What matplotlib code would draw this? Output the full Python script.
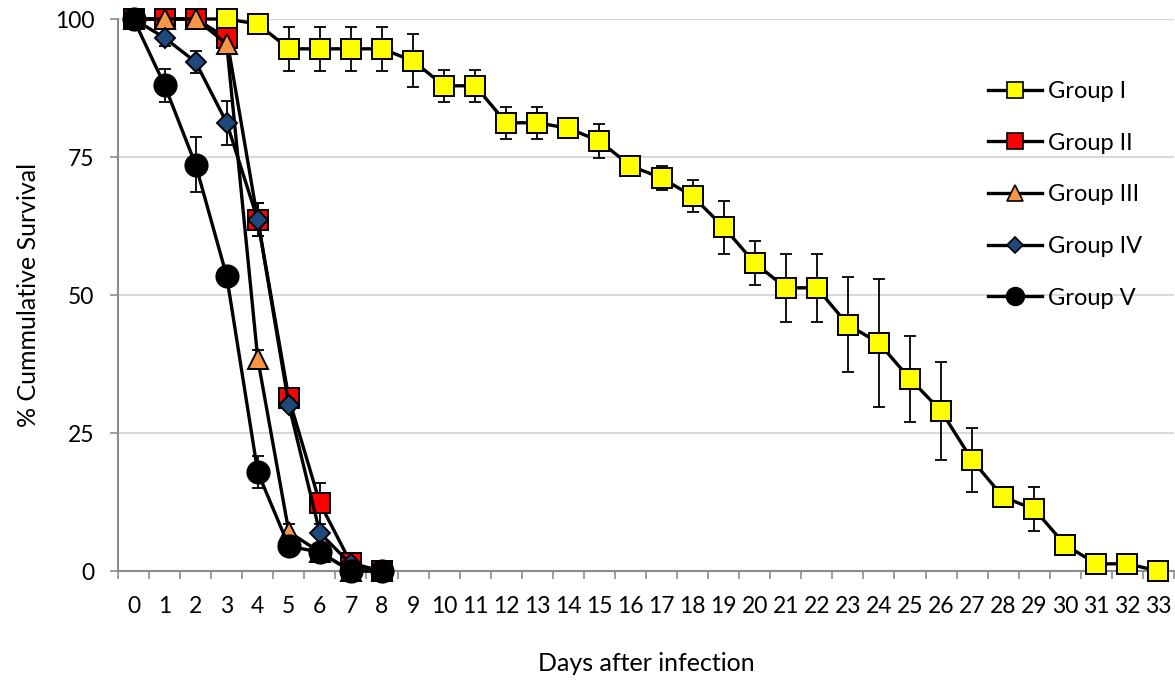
import numpy as np
import matplotlib.pyplot as plt
from matplotlib.lines import Line2D

plt.rcParams['font.family'] = ['Lato', 'DejaVu Sans']

# days after infection
days_I = np.arange(0, 34)
days_short = np.arange(0, 9)

# Group I
surv_I = [100, 100, 100, 100, 99.1, 94.6, 94.6, 94.6, 94.6, 92.4,
          87.9, 87.9, 81.2, 81.2, 80.2, 77.9, 73.4, 71.2, 67.9, 62.3,
          55.8, 51.3, 51.3, 44.6, 41.3, 34.8, 29.0, 20.1, 13.4, 11.2,
          4.7, 1.3, 1.3, 0]
err_I = [0, 0, 0, 0, 0, 4.0, 4.0, 4.0, 4.0, 4.8,
         2.9, 2.9, 2.9, 2.9, 0.8, 3.0, 0, 2.2, 2.9, 4.8,
         4.0, 6.2, 6.2, 8.6, 11.6, 7.8, 8.9, 5.8, 0, 4.0,
         0, 0, 0, 0]
# Group II
surv_II = [100, 100, 100, 96.6, 63.6, 31.3, 12.3, 1.4, 0]
err_II = [0, 0, 0, 0, 3.0, 1.0, 3.7, 0, 0]
# Group III
surv_III = [100, 100, 100, 95.5, 38.4, 7.1, 3.4, 0, 0]
err_III = [0, 0, 0, 0, 1.6, 1.5, 0, 0, 0]
# Group IV
surv_IV = [100, 96.6, 92.2, 81.2, 63.6, 30.1, 6.9, 1.2, 0]
err_IV = [0, 1.5, 2.0, 4.0, 3.0, 1.0, 0, 0, 0]
# Group V
surv_V = [100, 88.0, 73.6, 53.4, 17.9, 4.5, 3.4, 0, 0]
err_V = [0, 3.0, 5.0, 1.0, 2.9, 0, 0, 0, 0]

labels = ['Group I', 'Group II', 'Group III', 'Group IV', 'Group V']
colors = ['#ffff00', '#ff0000', '#f79646', '#1f497d', '#000000']
markers = ['s', 's', '^', 'D', 'o']
msizes = [15, 15, 15, 10.5, 16]

series = [(days_I, surv_I, err_I), (days_short, surv_II, err_II),
          (days_short, surv_III, err_III), (days_short, surv_IV, err_IV),
          (days_short, surv_V, err_V)]

fig = plt.figure(figsize=(11.75, 6.81), dpi=100)
ax = fig.add_axes([118/1175, 110/681, 1056/1175, 552/681])

for i, (x, y, e) in enumerate(series):
    x = np.asarray(x)
    y = np.asarray(y, dtype=float)
    e = np.asarray(e, dtype=float)
    z = 3 + 2*i
    ax.plot(x, y, color='black', lw=2.4, zorder=z, clip_on=False)
    m = e > 0
    if m.any():
        ax.errorbar(x[m], y[m], yerr=e[m], fmt='none', ecolor='black',
                    elinewidth=1.3, capsize=4.5, capthick=1.3, zorder=z, clip_on=False)
    ax.plot(x, y, ls='none', marker=markers[i], ms=msizes[i], mfc=colors[i],
            mec='black', mew=1.4, zorder=z + 1, clip_on=False)

ax.set_xlim(-0.5, 33.5)
ax.set_ylim(0, 100)
ax.set_yticks([0, 25, 50, 75, 100])
ax.set_xticks(days_I)
ax.set_xticks(np.arange(-0.5, 34, 1), minor=True)
ax.tick_params(axis='x', which='major', length=0, pad=18, labelsize=16.5)
ax.tick_params(axis='x', which='minor', length=6, width=1.2, color='#8c8c8c')
ax.tick_params(axis='y', length=6, width=1.2, color='#8c8c8c', pad=11, labelsize=16.5)

ax.grid(axis='y', color='#d9d9d9', lw=1.5)
ax.set_axisbelow(True)
for s in ['top', 'right']:
    ax.spines[s].set_visible(False)
for s in ['left', 'bottom']:
    ax.spines[s].set_color('#8c8c8c')
    ax.spines[s].set_linewidth(1.5)

ax.set_xlabel('Days after infection', fontsize=18, labelpad=25)
ax.set_ylabel('% Cummulative Survival', fontsize=18, labelpad=11)

handles = [Line2D([], [], color='black', lw=2.4, marker=markers[i], mfc=colors[i],
                  mec='black', mew=1.2, ms=msizes[i] * 0.8) for i in range(5)]
ax.legend(handles, labels, loc='upper left', bbox_to_anchor=(0.815, 0.905),
          borderaxespad=0, frameon=False, fontsize=17, labelspacing=1.3,
          handlelength=2.3, handletextpad=0.25)

fig.savefig('out.png', dpi=100)
